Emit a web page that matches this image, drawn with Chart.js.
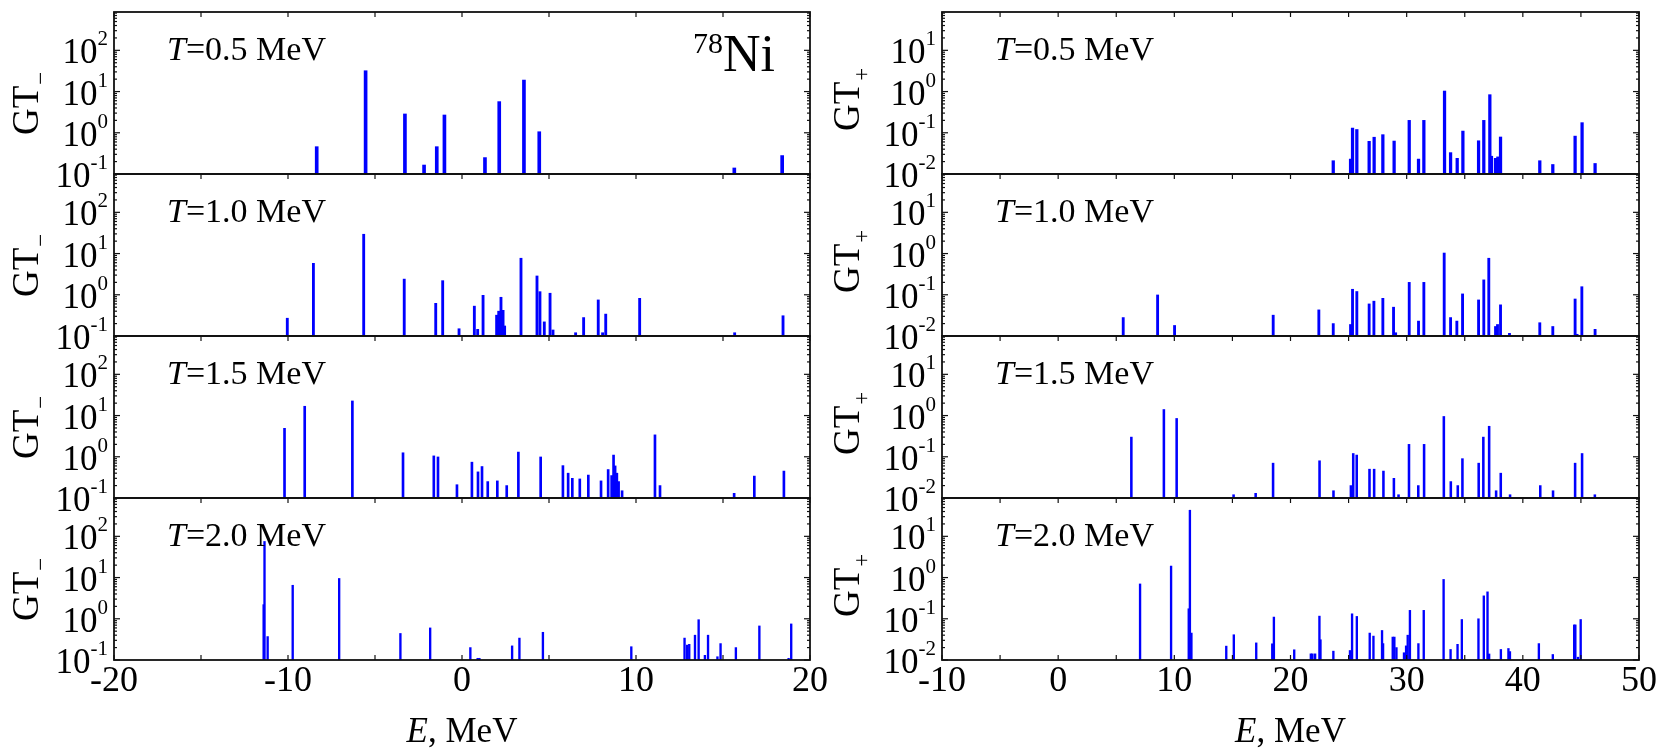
<!DOCTYPE html>
<html>
<head>
<meta charset="utf-8">
<script src="https://cdn.jsdelivr.net/npm/chart.js@4/dist/chart.umd.min.js"></script>
<style>
  html, body { margin: 0; padding: 0; background: #fff; }
  #wrap { position: relative; width: 1659px; height: 753px; overflow: hidden; }
  #wrap canvas { position: absolute; left: 0; top: 0; }
</style>
</head>
<body>
<div id="wrap"></div>
<script>
// temperatures of the four rows
var temps = ['0.5', '1.0', '1.5', '2.0'];

// x tick labels
var ticksMinus = [-20, -10, 0, 10, 20];
var ticksPlus = [-10, 0, 10, 20, 30, 40, 50];

// GT- strength, energies in MeV
var gtmE05 = [-8.35, -5.54, -3.28, -2.18, -1.45, -1.01, 1.32, 2.14, 3.56, 4.44, 15.65, 18.4];
var gtmS05 = [0.46, 32, 2.86, 0.165, 0.46, 2.7, 0.25, 5.7, 19, 1.06, 0.14, 0.28];

var gtmE10 = [-10.04, -8.54, -5.65, -3.32, -1.51, -1.11, -0.17, 0.71, 0.9, 1.21, 1.99, 2.11, 2.24, 2.36, 2.45,
              3.39, 4.31, 4.48, 4.73, 5.06, 5.23, 6.53, 6.99, 7.83, 8.08, 8.26, 10.21, 15.67, 18.45];
var gtmS10 = [0.27, 5.8, 29.4, 2.4, 0.62, 2.2, 0.15, 0.53, 0.145, 0.97, 0.32, 0.40, 0.87, 0.42, 0.175,
              7.7, 2.86, 1.19, 0.22, 1.09, 0.14, 0.12, 0.28, 0.75, 0.12, 0.34, 0.82, 0.12, 0.31];

var gtmE15 = [-10.2, -9.04, -6.3, -3.39, -1.62, -1.38, -0.29, 0.57, 0.92, 1.15, 1.48, 2.03, 2.57, 3.24, 4.52,
              5.8, 6.1, 6.34, 6.77, 7.26, 7.99, 8.4, 8.6, 8.71, 8.8, 8.9, 9.0, 9.2, 11.09, 11.38, 15.64, 16.8, 18.5];
var gtmS15 = [4.9, 16.8, 22.6, 1.25, 1.05, 0.99, 0.21, 0.74, 0.43, 0.58, 0.25, 0.26, 0.2, 1.3, 0.99,
              0.61, 0.4, 0.3, 0.29, 0.36, 0.26, 0.49, 0.35, 1.1, 0.6, 0.4, 0.25, 0.15, 3.4, 0.2, 0.13, 0.34, 0.45];

var gtmE20 = [-11.4, -11.35, -11.17, -9.73, -7.06, -3.54, -1.83, 0.48, 0.9, 1.0, 2.88, 3.3, 4.65, 9.73,
              12.79, 12.94, 13.06, 13.39, 13.6, 13.96, 14.14, 14.68, 14.86, 15.74, 17.09, 18.77, 18.92];
var gtmS20 = [2.2, 75, 0.37, 6.5, 9.5, 0.44, 0.6, 0.2, 0.11, 0.11, 0.22, 0.34, 0.47, 0.21,
              0.34, 0.23, 0.24, 0.4, 0.95, 0.13, 0.4, 0.12, 0.25, 0.2, 0.67, 0.11, 0.75];

// GT+ strength, energies in MeV
var gtpE05 = [23.68, 25.17, 25.34, 25.71, 26.77, 27.2, 27.95, 28.92, 30.22, 31.02, 31.48, 33.26, 33.78, 34.35,
              34.84, 36.19, 36.64, 37.16, 37.3, 37.65, 37.85, 38.08, 41.46, 42.58, 44.5, 45.1, 46.22];
var gtpS05 = [0.021, 0.023, 0.13, 0.12, 0.062, 0.078, 0.09, 0.063, 0.2, 0.023, 0.2, 1.03, 0.033, 0.024,
              0.11, 0.064, 0.2, 0.84, 0.027, 0.024, 0.026, 0.079, 0.021, 0.017, 0.083, 0.176, 0.018];

var gtpE10 = [5.6, 8.56, 10.02, 18.51, 22.44, 23.68, 25.17, 25.34, 25.71, 26.77, 27.18, 27.95, 28.87, 29.05,
              30.22, 31.02, 31.48, 33.23, 33.78, 34.32, 34.81, 36.19, 36.64, 37.07, 37.65, 37.82, 38.08, 38.85,
              41.46, 42.58, 44.5, 44.67, 45.08, 46.22];
var gtpS10 = [0.028, 0.099, 0.018, 0.032, 0.043, 0.02, 0.019, 0.136, 0.12, 0.06, 0.07, 0.082, 0.05, 0.012,
              0.2, 0.023, 0.2, 1.03, 0.028, 0.023, 0.105, 0.075, 0.23, 0.77, 0.017, 0.019, 0.057, 0.0116,
              0.021, 0.017, 0.079, 0.011, 0.157, 0.0145];

var gtpE15 = [6.3, 9.1, 10.2, 15.1, 17.0, 18.5, 22.5, 23.7, 25.2, 25.4, 25.7, 26.8, 27.2, 28.0, 28.9, 29.3,
              30.2, 31.0, 31.5, 33.2, 33.8, 34.4, 34.8, 36.2, 36.6, 37.1, 37.7, 38.1, 38.9, 41.5, 42.6, 44.5, 45.1, 46.2];
var gtpS15 = [0.3, 1.4, 0.85, 0.012, 0.013, 0.07, 0.08, 0.015, 0.02, 0.12, 0.11, 0.05, 0.05, 0.045, 0.03, 0.012,
              0.2, 0.02, 0.2, 0.95, 0.025, 0.02, 0.09, 0.07, 0.3, 0.55, 0.015, 0.04, 0.012, 0.02, 0.015, 0.07, 0.12, 0.012];

var gtpE20 = [7.05, 9.72, 11.24, 11.34, 11.47, 14.47, 15.12, 17.05, 18.43, 18.57, 20.32, 21.75, 21.89, 22.12,
              22.49, 22.58, 23.69, 25.12, 25.3, 25.71, 26.82, 27.14, 27.88, 27.97, 28.8, 28.94, 29.12, 29.77,
              29.95, 30.09, 30.28, 31.01, 31.47, 33.18, 33.78, 34.38, 34.75, 36.18, 36.64, 36.96, 37.1, 38.11,
              38.76, 38.89, 41.38, 42.58, 44.42, 44.52, 44.75, 44.98];
var gtpS20 = [0.7, 1.9, 0.175, 43, 0.045, 0.0217, 0.041, 0.026, 0.0247, 0.11, 0.0177, 0.0141, 0.0141, 0.0141,
              0.116, 0.031, 0.0164, 0.017, 0.132, 0.114, 0.045, 0.038, 0.052, 0.025, 0.036, 0.036, 0.02, 0.015,
              0.022, 0.04, 0.16, 0.025, 0.16, 0.9, 0.018, 0.024, 0.096, 0.1, 0.36, 0.45, 0.014, 0.018,
              0.019, 0.016, 0.025, 0.0136, 0.071, 0.071, 0.0117, 0.096];

var W = 1659, H = 753;
var rowTop = 12, rowH = 162;
var serif = '"Liberation Serif", "Times New Roman", serif';

var columns = [
  { side: 'minus', left: 114, right: 810, xMin: -20, xMax: 20, yMin: 0.1, yMax: Math.pow(10, 2.93),
    ticks: ticksMinus, sub: '\u2212',
    E: [gtmE05, gtmE10, gtmE15, gtmE20], S: [gtmS05, gtmS10, gtmS15, gtmS20], bw: [3, 2.2, 2, 1.7] },
  { side: 'plus', left: 942, right: 1639, xMin: -10, xMax: 50, yMin: 0.01, yMax: Math.pow(10, 1.93),
    ticks: ticksPlus, sub: '+',
    E: [gtpE05, gtpE10, gtpE15, gtpE20], S: [gtpS05, gtpS10, gtpS15, gtpS20], bw: [2.6, 2.2, 1.9, 1.7] }
];

function seg(ctx, x1, y1, x2, y2) {
  ctx.beginPath(); ctx.moveTo(x1, y1); ctx.lineTo(x2, y2); ctx.stroke();
}

// 10^n label, right-aligned at rx
function powLabel(ctx, rx, y, n) {
  ctx.font = '35px ' + serif;
  var wb = ctx.measureText('10').width;
  ctx.font = '21px ' + serif;
  var we = ctx.measureText(String(n)).width;
  var x0 = rx - wb - we;
  ctx.font = '35px ' + serif;
  ctx.fillText('10', x0, y + 13);
  ctx.font = '21px ' + serif;
  ctx.fillText(String(n), x0 + wb, y - 5);
}

function panelDecor(col, row) {
  return {
    id: 'panelDecor',
    afterDatasetsDraw: function (chart) {
      var ctx = chart.ctx, a = chart.chartArea;
      var xs = chart.scales.x, ys = chart.scales.y;
      ctx.save();
      ctx.strokeStyle = '#111';
      ctx.fillStyle = '#000';
      ctx.lineWidth = 1.8;
      ctx.strokeRect(a.left, a.top, a.right - a.left, a.bottom - a.top);

      // log ticks on both sides, pointing inwards
      ctx.lineWidth = 1.2;
      var e0 = Math.floor(Math.log10(ys.min)), e1 = Math.ceil(Math.log10(ys.max));
      for (var e = e0; e <= e1; e++) {
        for (var m = 1; m < 10; m++) {
          var v = m * Math.pow(10, e);
          if (v < ys.min * 0.999 || v > ys.max) continue;
          var py = ys.getPixelForValue(v);
          var len = m === 1 ? 6 : 3;
          seg(ctx, a.left, py, a.left + len, py);
          seg(ctx, a.right, py, a.right - len, py);
        }
      }
      // energy ticks every 5 MeV
      for (var x = xs.min; x <= xs.max; x += 5) {
        var px = xs.getPixelForValue(x);
        seg(ctx, px, a.top, px, a.top + 5);
        if (row === 3) seg(ctx, px, a.bottom, px, a.bottom - 5);
      }

      // decade labels
      ctx.textAlign = 'left';
      ctx.textBaseline = 'alphabetic';
      for (var d = Math.ceil(Math.log10(ys.min) - 1e-9); d <= Math.floor(Math.log10(ys.max)); d++) {
        powLabel(ctx, a.left - 6, ys.getPixelForValue(Math.pow(10, d)), d);
      }

      // y title GT-/GT+, rotated
      var cy = (a.top + a.bottom) / 2;
      ctx.save();
      if (col.side === 'minus') ctx.translate(38, cy + 42);
      else ctx.translate(859, cy + 38);
      ctx.rotate(-Math.PI / 2);
      ctx.font = '37px ' + serif;
      ctx.fillText('GT', 0, 0);
      var wgt = ctx.measureText('GT').width;
      ctx.font = '23px ' + serif;
      ctx.fillText(col.sub, wgt + 1, 10);
      ctx.restore();

      // temperature label
      var tx = a.left + 53, ty = a.top + 48;
      ctx.font = 'italic 34px ' + serif;
      ctx.fillText('T', tx, ty);
      var wt = ctx.measureText('T').width;
      ctx.font = '34px ' + serif;
      ctx.fillText('=' + temps[row] + ' MeV', tx + wt, ty);

      if (col.side === 'minus' && row === 0) {
        ctx.font = '30px ' + serif;
        ctx.fillText('78', 693, 53);
        var w78 = ctx.measureText('78').width;
        ctx.font = '52px ' + serif;
        ctx.fillText('Ni', 693 + w78, 71);
      }

      if (row === 3) {
        ctx.textAlign = 'center';
        ctx.font = '36px ' + serif;
        col.ticks.forEach(function (t) {
          ctx.fillText(String(t), xs.getPixelForValue(t), a.bottom + 31);
        });
        // axis title E, MeV
        var cx = (a.left + a.right) / 2;
        ctx.font = 'italic 35px ' + serif;
        var wE = ctx.measureText('E').width;
        ctx.font = '35px ' + serif;
        var wR = ctx.measureText(', MeV').width;
        var sx = cx - (wE + wR) / 2;
        ctx.textAlign = 'left';
        ctx.font = 'italic 35px ' + serif;
        ctx.fillText('E', sx, 742);
        ctx.font = '35px ' + serif;
        ctx.fillText(', MeV', sx + wE, 742);
      }
      ctx.restore();
    }
  };
}

var wrap = document.getElementById('wrap');
columns.forEach(function (col) {
  for (var row = 0; row < 4; row++) {
    var cv = document.createElement('canvas');
    cv.width = W; cv.height = H;
    wrap.appendChild(cv);
    var top = rowTop + row * rowH;
    var pts = col.E[row].map(function (e, i) { return { x: e, y: col.S[row][i] }; });
    new Chart(cv, {
      type: 'bar',
      data: {
        datasets: [{
          data: pts,
          backgroundColor: '#0000ff',
          borderWidth: 0,
          barThickness: col.bw[row],
          base: col.yMin
        }]
      },
      options: {
        responsive: false,
        animation: false,
        devicePixelRatio: 1,
        layout: { padding: { left: col.left, right: W - col.right, top: top, bottom: H - top - rowH } },
        plugins: { legend: { display: false }, tooltip: { enabled: false } },
        scales: {
          x: { type: 'linear', min: col.xMin, max: col.xMax, offset: false, display: false },
          y: { type: 'logarithmic', min: col.yMin, max: col.yMax, display: false }
        }
      },
      plugins: [panelDecor(col, row)]
    });
  }
});
</script>
</body>
</html>
